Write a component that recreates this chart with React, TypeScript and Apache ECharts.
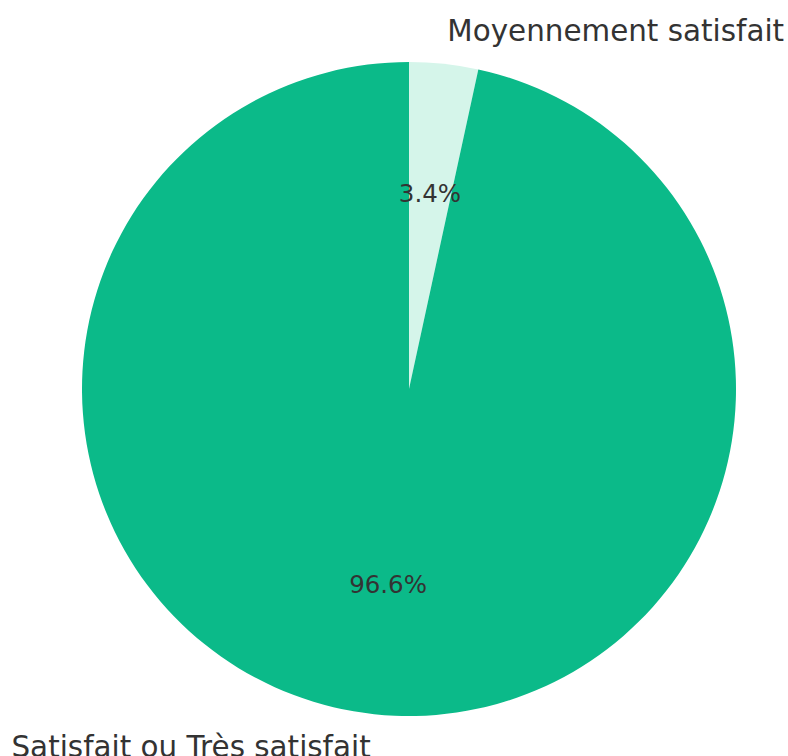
import React, { useEffect, useRef } from "react";
import * as echarts from "echarts";

const categories = ["Moyennement satisfait", "Satisfait ou Très satisfait"];
const values = [3.4, 96.6];
const colors = ["#D5F5EA", "#0BBA89"];

export default function App() {
  const ref = useRef<HTMLDivElement>(null);
  useEffect(() => {
    document.body.style.margin = "0";
    const chart = echarts.init(ref.current!, null, { renderer: "svg" });
    const R = 327;
    const data = categories.map((name, i) => ({
      name,
      value: values[i],
      itemStyle: { color: colors[i] },
    }));
    chart.setOption({
      animation: false,
      backgroundColor: "#ffffff",
      series: [
        {
          type: "pie",
          left: 0,
          top: 0,
          right: -300,
          bottom: -300,
          center: [409, 389],
          radius: [0, R],
          startAngle: 90,
          clockwise: true,
          avoidLabelOverlap: false,
          silent: true,
          data,
          label: {
            show: true,
            position: "outside",
            formatter: "{b}",
            fontSize: 29.4,
            fontFamily: "DejaVu Sans",
            color: "#333333",
            distanceToLabelLine: 0,
            bleedMargin: 0,
          },
          labelLine: { show: false, length: R * 0.1, length2: 0 },
          emphasis: { disabled: true },
        },
        {
          type: "pie",
          left: 0,
          top: 0,
          right: -300,
          bottom: -300,
          center: [409, 389],
          radius: [0, R * 1.2 - 6],
          startAngle: 90,
          clockwise: true,
          avoidLabelOverlap: false,
          silent: true,
          data: categories.map((name, i) => ({
            name,
            value: values[i],
            itemStyle: { color: "rgba(0,0,0,0)" },
          })),
          label: {
            show: true,
            position: "inside",
            formatter: (p: any) => p.value.toFixed(1) + "%",
            fontSize: 24.5,
            fontFamily: "DejaVu Sans",
            color: "#333333",
          },
          labelLine: { show: false },
          emphasis: { disabled: true },
        },
      ],
    });
    return () => chart.dispose();
  }, []);
  return (
    <div
      ref={ref}
      style={{ position: "absolute", left: 0, top: 0, width: 788, height: 756 }}
    />
  );
}
